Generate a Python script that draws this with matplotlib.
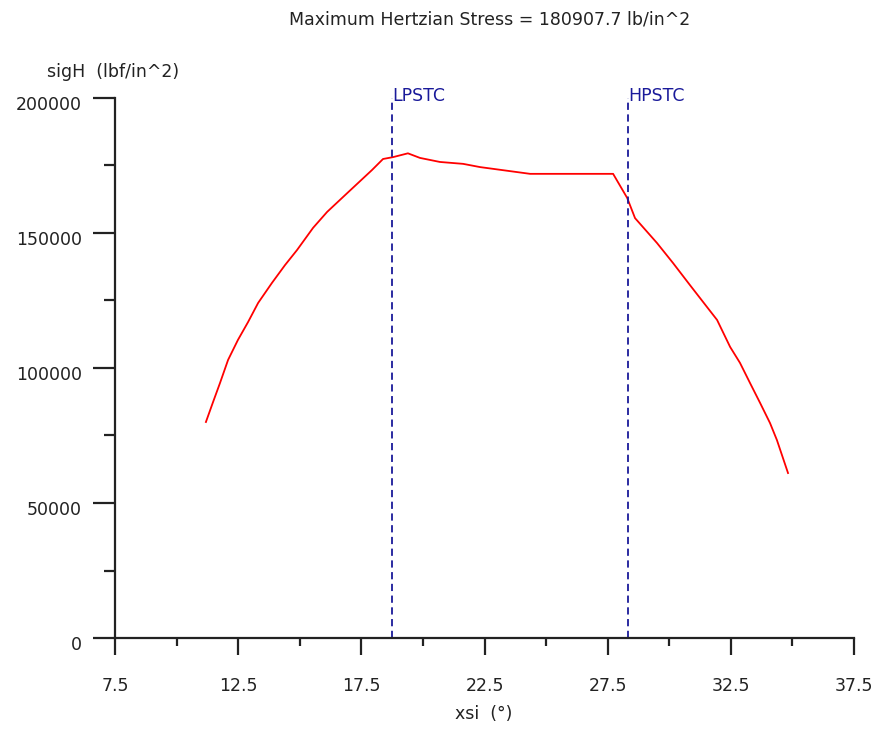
import matplotlib
matplotlib.use("Agg")
import matplotlib.pyplot as plt
from matplotlib.ticker import MultipleLocator
from matplotlib.transforms import ScaledTranslation

# Hertzian contact stress along the line of action
xsi = [11.19, 11.48, 11.76, 12.09, 12.49, 12.90, 13.31, 13.87, 14.40, 14.89,
       15.54, 16.11, 16.93, 17.93, 18.38, 18.79, 19.39, 19.88, 20.69, 21.63,
       22.32, 24.35, 26.38, 27.72, 28.29, 28.61, 29.50, 30.15, 30.84, 31.53,
       31.94, 32.47, 32.87, 33.28, 33.69, 34.09, 34.37, 34.82]
sig_h = [80000, 87400, 94400, 103000, 110400, 117000, 124100, 131500, 138100,
         143700, 151900, 157800, 164800, 173300, 177400, 178100, 179500, 177800,
         176300, 175600, 174400, 171900, 171900, 171900, 163000, 155500, 146300,
         138900, 130700, 122600, 117800, 107800, 101900, 94400, 87000, 79600,
         73300, 61100]

# Single-tooth contact limits
contact_names = ["LPSTC", "HPSTC"]
contact_xsi = [18.75, 28.33]

max_stress = 180907.7
x_ticks = [7.5, 12.5, 17.5, 22.5, 27.5, 32.5, 37.5]
y_ticks = [0, 50000, 100000, 150000, 200000]

plt.rcParams["font.family"] = ["DejaVu Sans"]
text_col = "#222222"
axis_col = "#222222"
marker_col = "#1a1a9a"

fig = plt.figure(figsize=(8.78, 7.3), dpi=100)
ax = fig.add_axes([0.131, 0.126, 0.8417, 0.7398])

ax.plot(xsi, sig_h, color="#ff0000", lw=1.3)
for name, xv in zip(contact_names, contact_xsi):
    ax.axvline(xv, color=marker_col, lw=1.3, ls=(0, (4, 2.5)))
    ax.text(xv, 200800, name, color=marker_col, fontsize=12.5,
            ha="left", va="center", clip_on=False)

ax.set_xlim(x_ticks[0], x_ticks[-1])
ax.set_ylim(y_ticks[0], y_ticks[-1])
ax.set_xticks(x_ticks)
ax.set_xticklabels([f"{v:.1f}" for v in x_ticks])
ax.set_yticks(y_ticks)
ax.set_yticklabels([f"{v:d}" for v in y_ticks])
ax.xaxis.set_minor_locator(MultipleLocator(2.5))
ax.yaxis.set_minor_locator(MultipleLocator(25000))

for side in ("top", "right"):
    ax.spines[side].set_visible(False)
for side in ("left", "bottom"):
    ax.spines[side].set_color(axis_col)
    ax.spines[side].set_linewidth(1.6)

ax.tick_params(axis="x", which="major", direction="out", length=12,
               width=1.6, color=axis_col, pad=16, labelsize=12.5,
               labelcolor=text_col)
ax.tick_params(axis="x", which="minor", direction="out", length=6,
               width=1.6, color=axis_col)
ax.tick_params(axis="y", which="major", direction="out", length=16,
               width=1.6, color=axis_col, pad=8, labelsize=12.5,
               labelcolor=text_col)
ax.tick_params(axis="y", which="minor", direction="out", length=8,
               width=1.6, color=axis_col)

# y tick labels sit a little below their ticks
shift = ScaledTranslation(0, -5 / 100, fig.dpi_scale_trans)
for lab in ax.get_yticklabels():
    lab.set_transform(lab.get_transform() + shift)

fig.text(490 / 878, 1 - 20 / 730,
         f"Maximum Hertzian Stress = {max_stress:.1f} lb/in^2",
         ha="center", va="center", fontsize=12.5, color=text_col)
fig.text(47 / 878, 1 - 72 / 730, "sigH  (lbf/in^2)",
         ha="left", va="center", fontsize=12.5, color=text_col)
fig.text(484 / 878, 1 - 714 / 730, "xsi  (°)",
         ha="center", va="center", fontsize=12.5, color=text_col)

fig.savefig("out.png", dpi=100, facecolor="white")
